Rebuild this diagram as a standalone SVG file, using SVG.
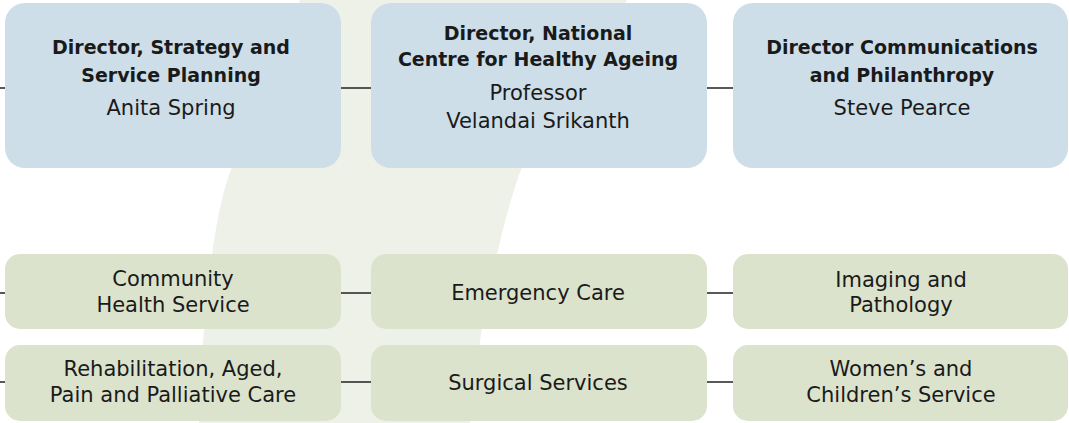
<svg xmlns="http://www.w3.org/2000/svg" width="1069" height="423" viewBox="0 0 1069 423">
<style>
.top{fill:#cddee8}
.bot{fill:#dce3cd}
.t{font-family:"DejaVu Sans",sans-serif;fill:#1a1a1a;text-anchor:middle}
.b{font-weight:bold;font-size:19px}
.r{font-size:21px}
.c{stroke:#222;stroke-width:1.5;fill:none}
</style>
<rect width="1069" height="423" fill="#ffffff"/>
<path d="M300,0 L627,0 L521.7,168 C505.7,208 478,323 470,423 L199,423 C202.6,303 215.4,208 231.7,168 Z" fill="#eef1e8"/>
<g id="connectors">
<line class="c" x1="0" y1="88" x2="5" y2="88"/>
<line class="c" x1="341" y1="88" x2="371" y2="88"/>
<line class="c" x1="707" y1="88" x2="733" y2="88"/>
<line class="c" x1="0" y1="293" x2="5" y2="293"/>
<line class="c" x1="341" y1="293" x2="371" y2="293"/>
<line class="c" x1="707" y1="293" x2="733" y2="293"/>
<line class="c" x1="0" y1="382" x2="5" y2="382"/>
<line class="c" x1="341" y1="382" x2="371" y2="382"/>
<line class="c" x1="707" y1="382" x2="733" y2="382"/>
</g>
<g id="n1">
<rect class="top" x="5" y="3" width="336" height="165" rx="20"/>
<text class="t b" x="171" y="54">Director, Strategy and</text>
<text class="t b" x="171" y="82">Service Planning</text>
<text class="t r" x="171" y="115">Anita Spring</text>
</g>
<g id="n2">
<rect class="top" x="371" y="3" width="336" height="165" rx="20"/>
<text class="t b" x="538" y="40">Director, National</text>
<text class="t b" x="538" y="66">Centre for Healthy Ageing</text>
<text class="t r" x="538" y="100">Professor</text>
<text class="t r" x="538" y="128">Velandai Srikanth</text>
</g>
<g id="n3">
<rect class="top" x="733" y="3" width="335" height="165" rx="20"/>
<text class="t b" x="902" y="54">Director Communications</text>
<text class="t b" x="902" y="82">and Philanthropy</text>
<text class="t r" x="902" y="115">Steve Pearce</text>
</g>
<g id="n4">
<rect class="bot" x="5" y="254" width="336" height="75" rx="15"/>
<text class="t r" x="173" y="286">Community</text>
<text class="t r" x="173" y="312">Health Service</text>
</g>
<g id="n5">
<rect class="bot" x="371" y="254" width="336" height="75" rx="15"/>
<text class="t r" x="538" y="300">Emergency Care</text>
</g>
<g id="n6">
<rect class="bot" x="733" y="254" width="335" height="75" rx="15"/>
<text class="t r" x="901" y="287">Imaging and</text>
<text class="t r" x="901" y="312">Pathology</text>
</g>
<g id="n7">
<rect class="bot" x="5" y="345" width="336" height="76" rx="15"/>
<text class="t r" x="173" y="376">Rehabilitation, Aged,</text>
<text class="t r" x="173" y="402">Pain and Palliative Care</text>
</g>
<g id="n8">
<rect class="bot" x="371" y="345" width="336" height="76" rx="15"/>
<text class="t r" x="538" y="390">Surgical Services</text>
</g>
<g id="n9">
<rect class="bot" x="733" y="345" width="335" height="76" rx="15"/>
<text class="t r" x="901" y="376">Women’s and</text>
<text class="t r" x="901" y="402">Children’s Service</text>
</g>
</svg>
